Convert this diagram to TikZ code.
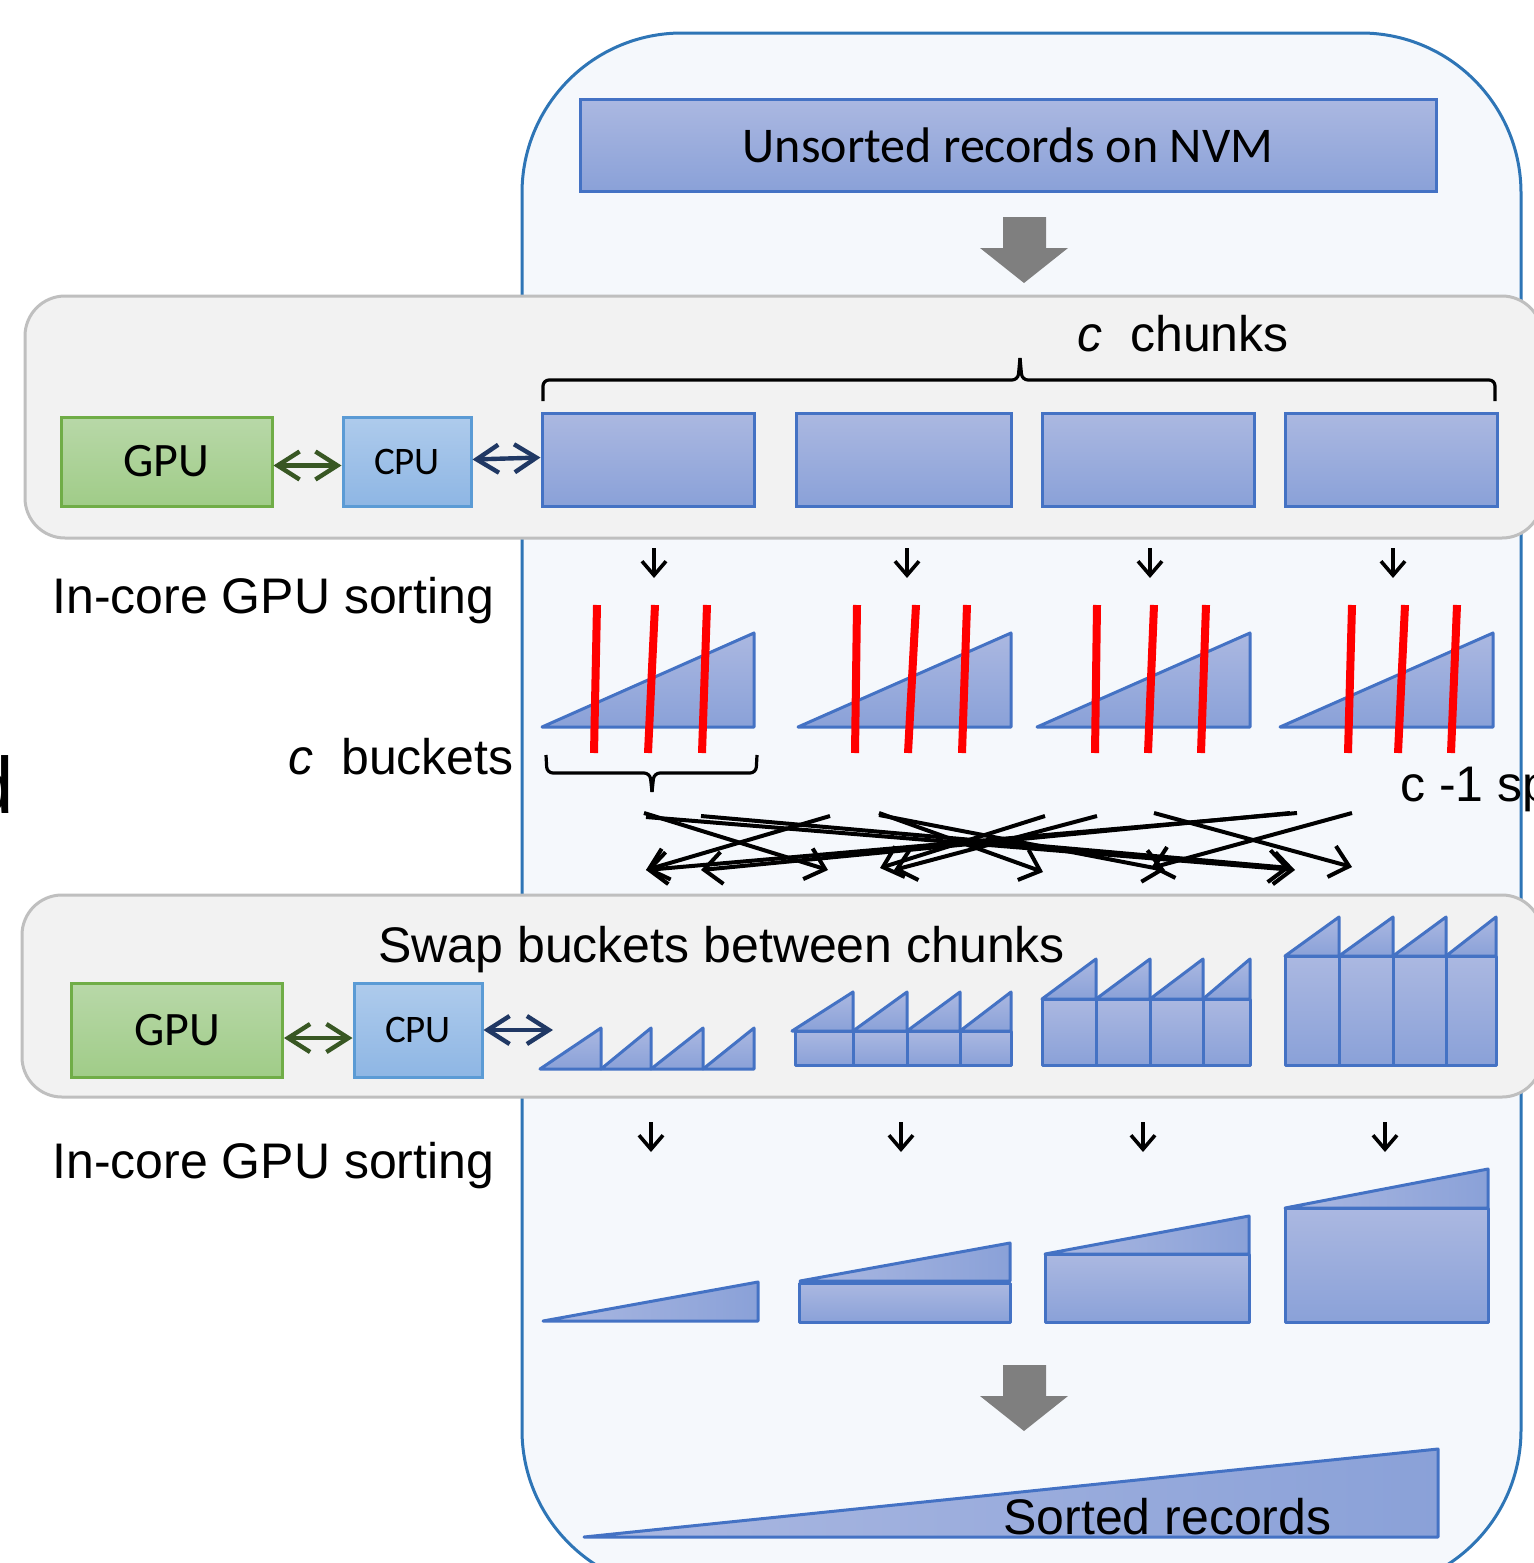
\documentclass[tikz,border=0pt]{standalone}
\usepackage{fontspec}
\setmainfont{Liberation Sans}
\newfontfamily\calibri{Carlito}
\usetikzlibrary{arrows.meta}
\definecolor{chtop}{RGB}{171,184,225}
\definecolor{chbot}{RGB}{138,161,216}
\definecolor{bordblue}{RGB}{68,114,196}
\definecolor{gputop}{RGB}{184,216,168}
\definecolor{gpubot}{RGB}{160,204,136}
\definecolor{gpubord}{RGB}{112,173,71}
\definecolor{cputop}{RGB}{174,203,236}
\definecolor{cpubot}{RGB}{142,182,228}
\definecolor{cpubord}{RGB}{91,155,213}
\definecolor{panelfill}{RGB}{242,242,242}
\definecolor{panelbord}{RGB}{191,191,191}
\definecolor{outerfill}{RGB}{245,248,252}
\definecolor{outerbord}{RGB}{46,117,182}
\definecolor{blockgray}{RGB}{127,127,127}
\definecolor{arrgreen}{RGB}{56,87,35}
\definecolor{arrblue}{RGB}{32,56,100}
\begin{document}
\begin{tikzpicture}[x=0.5pt,y=-0.5pt,
  chunk/.style={draw=bordblue, line width=1.5pt, top color=chtop, bottom color=chbot, minimum height=46.5pt, minimum width=106pt, inner sep=0pt},
  gpubox/.style={draw=gpubord, line width=1.5pt, top color=gputop, bottom color=gpubot, minimum width=105.5pt, inner sep=0pt, font=\calibri\fontsize{24}{28}\selectfont},
  cpubox/.style={draw=cpubord, line width=1.5pt, top color=cputop, bottom color=cpubot, minimum width=64pt, inner sep=0pt, font=\calibri\fontsize{19.5}{24}\selectfont},
  piece/.style={draw=bordblue, line width=1.5pt, top color=chtop, bottom color=chbot, line join=round},
  hpiece/.style={draw=bordblue, line width=1.5pt, left color=chtop, right color=chbot, line join=round},
  panel/.style={draw=panelbord, fill=panelfill, line width=1.5pt, rounded corners=20pt},
  lbl/.style={font=\fontsize{25}{30}\selectfont, inner sep=0pt},
  xarrow/.style={-{Straight Barb[length=9pt,width=16pt]}, line width=2pt},
  darrow/.style={-{Straight Barb[length=7pt,width=12pt]}, line width=1.8pt},
  bidi/.style={{Straight Barb[length=11pt,width=14pt]}-{Straight Barb[length=11pt,width=14pt]}, line width=2.2pt},
  redcut/.style={draw=red, line width=4pt},
  bracepath/.style={draw=black, line width=1.6pt, rounded corners=3pt}
]
\useasboundingbox (0,0) rectangle (1533,1563);
\fill[white] (0,0) rectangle (1533,1563);

% outer container
\draw[fill=outerfill, draw=outerbord, line width=1.5pt, rounded corners=80pt] (522,33) rectangle (1521,1590);

% top source box
\node[chunk, minimum width=428pt, minimum height=46pt, font=\calibri\fontsize{25}{30}\selectfont] (nvm) at (1008,145) {Unsorted records on NVM};

% gray block arrow 1
\fill[blockgray] (1003,217) -- (1046,217) -- (1046,248) -- (1068,248) -- (1024,283) -- (980,248) -- (1003,248) -- cycle;

% panel 1
\draw[panel] (25,296) rectangle (1542,538);
\node[gpubox, minimum height=44.5pt] (gpu1) at (166.5,461.5) {GPU};
\node[cpubox, minimum height=44.5pt] (cpu1) at (407,461.5) {CPU};
\node[chunk] (c1) at (648,459.5) {};
\node[chunk, minimum width=107.5pt] (c2) at (903.5,459.5) {};
\node[chunk] (c3) at (1148,459.5) {};
\node[chunk] (c4) at (1391,459.5) {};
\draw[bidi, arrgreen] ([yshift=-2pt]gpu1.east) -- ([yshift=-2pt]cpu1.west);
\draw[bidi, arrblue] ([yshift=1pt]cpu1.east) -- ([yshift=1pt]c1.west);

% brace over chunks
\draw[bracepath] (543,401) -- (543,380) -- (1018,380) -- (1020,358);
\draw[bracepath] (1020,358) -- (1022,380) -- (1495,380) -- (1495,401);
\node[lbl, anchor=base west] (cchunks) at (1077,351) {\textit{c}\hspace{0.556em}chunks};

% labels
\node[lbl, anchor=base west] (sort1) at (52,613) {In-core GPU sorting};
\node[lbl, anchor=base west] (cbuck) at (288,774) {\textit{c}\hspace{0.556em}buckets};
\node[lbl, anchor=base west] (csp) at (1400,801) {c -1 sp};
\node[font=\fontsize{40}{48}\selectfont, inner sep=0pt, anchor=base east] (dcut) at (14,813) {d};

% small down arrows row 1
\foreach \x [count=\i] in {654,907,1150,1393} {
  \coordinate (da\i) at (\x,548);
  \coordinate (db\i) at (\x,578);
  \draw[darrow] (da\i) -- (db\i);
}

% sorted chunk triangles with splitters
\foreach \l/\r in {542/754, 798/1011, 1037/1250, 1280/1493} {
  \path[piece] (\l,727) -- (\r,727) -- (\r,633) -- cycle;
}
\foreach \tx/\bx in {597/594, 655/648, 707/702, 857/855, 916/908, 967/962, 1097/1095, 1154/1148, 1206/1201, 1352/1348, 1405/1398, 1457/1451} {
  \draw[redcut] (\tx,605) -- (\bx,753);
}

% brace under first chunk
\draw[bracepath] (546,755) -- (547,773) -- (650,773) -- (652,792);
\draw[bracepath] (652,792) -- (654,773) -- (756,773) -- (757,755);

% crossing swap arrows
\foreach \ta/\tb/\ha/\hb [count=\i] in {
  644/813/828/870, 830/816/646/870, 879/813/1043/872, 1045/816/880/868,
  1154/813/1352/867, 1352/813/1151/868, 646/817/1295/870, 701/816/1290/868,
  1297/813/646/870, 1290/813/701/870, 1097/816/894/870, 879/815/1165/870} {
  \coordinate (xt\i) at (\ta,\tb);
  \coordinate (xh\i) at (\ha,\hb);
  \draw[xarrow] (xt\i) -- (xh\i);
}

% panel 2
\draw[panel] (22,895) rectangle (1542,1097);
\node[lbl, anchor=base west] (swap) at (378,962) {Swap buckets between chunks};
\node[gpubox, minimum height=47pt] (gpu2) at (177,1030) {GPU};
\node[cpubox, minimum height=47pt] (cpu2) at (418,1030) {CPU};
\coordinate (swapin) at (553,1030);
\draw[bidi, arrgreen] ([yshift=-4pt]gpu2.east) -- ([yshift=-4pt]cpu2.west);
\draw[bidi, arrblue] (cpu2.east) -- (swapin);

% row 3: chunk 1 small triangles
\foreach \l/\r in {540/601, 601/651, 651/703, 703/754} {
  \path[piece] (\l,1069) -- (\r,1069) -- (\r,1028) -- cycle;
}
% chunk 2
\foreach \l/\r in {795/853, 853/907, 907/960, 960/1011} {
  \path[piece] (\l,1031) rectangle (\r,1065);
}
\foreach \l/\r in {792/853, 853/907, 907/960, 960/1011} {
  \path[piece] (\l,1031) -- (\r,1031) -- (\r,992) -- cycle;
}
% chunk 3
\foreach \l/\r in {1042/1096, 1096/1150, 1150/1203, 1203/1250} {
  \path[piece] (\l,999) rectangle (\r,1065);
  \path[piece] (\l,999) -- (\r,999) -- (\r,959) -- cycle;
}
% chunk 4
\foreach \l/\r in {1285/1339, 1339/1393, 1393/1446, 1446/1496} {
  \path[piece] (\l,956) rectangle (\r,1065);
  \path[piece] (\l,956) -- (\r,956) -- (\r,917) -- cycle;
}

\node[lbl, anchor=base west] (sort2) at (52,1178) {In-core GPU sorting};

% small down arrows row 2
\foreach \x [count=\i] in {651,901,1143,1385} {
  \coordinate (ea\i) at (\x,1122);
  \coordinate (eb\i) at (\x,1152);
  \draw[darrow] (ea\i) -- (eb\i);
}

% row 4: merged chunks
\path[hpiece] (543,1321) -- (758,1321) -- (758,1282) -- cycle;
\path[piece] (799,1283) rectangle (1010,1322);
\path[hpiece] (800,1281) -- (1010,1281) -- (1010,1243) -- cycle;
\path[piece] (1045,1254) rectangle (1249,1322);
\path[hpiece] (1045,1254) -- (1249,1254) -- (1249,1216) -- cycle;
\path[piece] (1285,1208) rectangle (1488,1322);
\path[hpiece] (1285,1208) -- (1488,1208) -- (1488,1169) -- cycle;

% gray block arrow 2
\fill[blockgray] (1003,1365) -- (1046,1365) -- (1046,1396) -- (1068,1396) -- (1024,1431) -- (980,1396) -- (1003,1396) -- cycle;

% sorted output
\path[hpiece] (584,1537) -- (1438,1537) -- (1438,1449) -- cycle;
\node[lbl, font=\fontsize{25}{30}\selectfont, anchor=base west] (sorted) at (1003,1534) {Sorted records};
\end{tikzpicture}
\end{document}
